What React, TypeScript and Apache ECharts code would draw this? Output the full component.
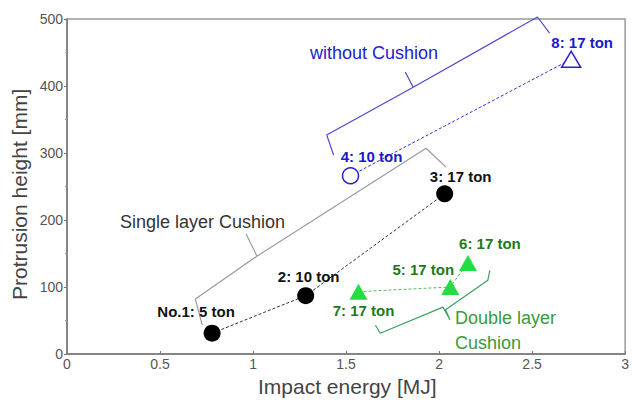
import React, { useEffect, useRef } from "react";
import * as echarts from "echarts";

// Data
const singleX = [0.78, 1.283, 2.03];
const singleY = [31, 87, 239];
const singleNames = ["No.1: 5 ton", "2: 10 ton", "3: 17 ton"];

const noneX = [1.524, 2.71];
const noneY = [266, 440];
const noneNames = ["4: 10 ton", "8: 17 ton"];

const doubleX = [1.567, 2.06, 2.155];
const doubleY = [93, 100, 136];
const doubleNames = ["7: 17 ton", "5: 17 ton", "6: 17 ton"];

// Bracket outlines (annotation shapes, in data units)
const bracketSingleX = [0.727, 0.69, 1.021, 0.963, 1.021, 1.93, 2.037];
const bracketSingleY = [43, 82, 146, 179, 146, 307, 279];
const bracketNoneX = [1.433, 1.396, 1.861, 1.818, 1.861, 2.529, 2.594];
const bracketNoneY = [297, 327, 398, 421, 398, 503, 479];
const bracketDoubleX = [1.658, 1.684, 2.021, 2.059, 2.035, 2.262, 2.273];
const bracketDoubleY = [43, 31, 70, 51, 66, 110, 125];

const xTicks = { min: 0, max: 3, interval: 0.5 };
const yTicks = { min: 0, max: 500, interval: 100 };

// label offsets (styling)
const singleOff = [[-16, -22], [3, -19], [16, -17]];
const noneOff = [[21, -19], [11, -17]];
const doubleOff = [[5, 19], [-27, -18], [22, -19]];

const FONT = "'Liberation Sans', Arial, sans-serif";

function zip(xs: number[], ys: number[]) {
  return xs.map((x, i) => [x, ys[i]]);
}

export default function App() {
  const ref = useRef<HTMLDivElement>(null);
  useEffect(() => {
    if (!ref.current) return;
    const chart = echarts.init(ref.current, undefined, { renderer: "svg" });
    const ptLabel = (name: string, off: number[], color: string) => ({
      show: true,
      position: "inside",
      offset: off,
      formatter: name,
      color,
      fontFamily: FONT,
      fontWeight: "bold",
      fontSize: 15,
    });
    const bracket = (xs: number[], ys: number[], color: string) => ({
      type: "line",
      data: zip(xs, ys),
      symbol: "none",
      clip: false,
      silent: true,
      z: 1,
      lineStyle: { color, width: 1.2 },
    });
    chart.setOption({
      animation: false,
      grid: {
        left: 67,
        right: 4,
        top: 19,
        bottom: 49,
        show: true,
        borderColor: "#999",
        borderWidth: 1.5,
        backgroundColor: "#fff",
      },
      xAxis: {
        type: "value",
        min: xTicks.min,
        max: xTicks.max,
        interval: xTicks.interval,
        axisLine: { show: true, lineStyle: { color: "#777", width: 1.5 } },
        axisTick: { show: true, inside: true, length: 3, lineStyle: { color: "#777" } },
        splitLine: { show: false },
        axisLabel: {
          color: "#555",
          fontSize: 14,
          fontFamily: FONT,
          margin: 3,
          formatter: (v: number) => String(v),
        },
      },
      yAxis: {
        type: "value",
        min: yTicks.min,
        max: yTicks.max,
        interval: yTicks.interval,
        axisLine: { show: true, lineStyle: { color: "#777", width: 1.5 } },
        axisTick: { show: true, length: 3, lineStyle: { color: "#777" } },
        minorTick: { show: true, splitNumber: 2, length: 2, lineStyle: { color: "#999" } },
        splitLine: { show: false },
        axisLabel: { color: "#555", fontSize: 14, fontFamily: FONT, margin: 4 },
      },
      graphic: [
        {
          type: "text",
          left: 258,
          top: 376,
          style: { text: "Impact energy [MJ]", font: `21px ${FONT}`, fill: "#444" },
        },
        {
          type: "text",
          x: 9,
          y: 300,
          rotation: Math.PI / 2,
          style: {
            text: "Protrusion height [mm]",
            font: `21px ${FONT}`,
            fill: "#444",
            align: "left",
            verticalAlign: "top",
          },
          originX: 0,
          originY: 0,
        },
        {
          type: "text",
          left: 310,
          top: 44,
          style: { text: "without Cushion", font: `18px ${FONT}`, fill: "#2222cc" },
        },
        {
          type: "text",
          left: 120,
          top: 213,
          style: { text: "Single layer Cushion", font: `18px ${FONT}`, fill: "#333" },
        },
        {
          type: "text",
          left: 455,
          top: 305,
          style: { text: "Double layer\nCushion", font: `18px ${FONT}`, fill: "#3a9a3a", lineHeight: 25 },
        },
      ],
      series: [
        bracket(bracketSingleX, bracketSingleY, "#999"),
        bracket(bracketNoneX, bracketNoneY, "#4a4ad0"),
        bracket(bracketDoubleX, bracketDoubleY, "#3aa060"),
        {
          type: "line",
          z: 3,
          data: zip(singleX, singleY).map((p, i) => ({
            value: p,
            label: ptLabel(singleNames[i], singleOff[i], "#111"),
          })),
          symbol: "circle",
          symbolSize: 17,
          itemStyle: { color: "#000" },
          lineStyle: { color: "#333", width: 1, type: [3, 2] },
        },
        {
          type: "line",
          z: 3,
          data: zip(noneX, noneY).map((p, i) => ({
            value: p,
            symbol: i === 0 ? "circle" : "triangle",
            symbolSize: i === 0 ? 16 : [19, 16],
            label: ptLabel(noneNames[i], noneOff[i], "#1a1acc"),
          })),
          itemStyle: { color: "#fff", borderColor: "#2222cc", borderWidth: 1.5 },
          lineStyle: { color: "#3333dd", width: 1, type: [3, 2] },
        },
        {
          type: "line",
          z: 3,
          data: zip(doubleX, doubleY).map((p, i) => ({
            value: p,
            label: ptLabel(doubleNames[i], doubleOff[i], "#1b7a1b"),
          })),
          symbol: "triangle",
          symbolSize: [18, 16],
          itemStyle: { color: "#22dd44" },
          lineStyle: { color: "#55bb66", width: 1, type: [3, 2] },
        },
      ],
    });
    return () => chart.dispose();
  }, []);
  return <div ref={ref} style={{ width: 632, height: 403, position: "absolute", left: 0, top: 0 }} />;
}
